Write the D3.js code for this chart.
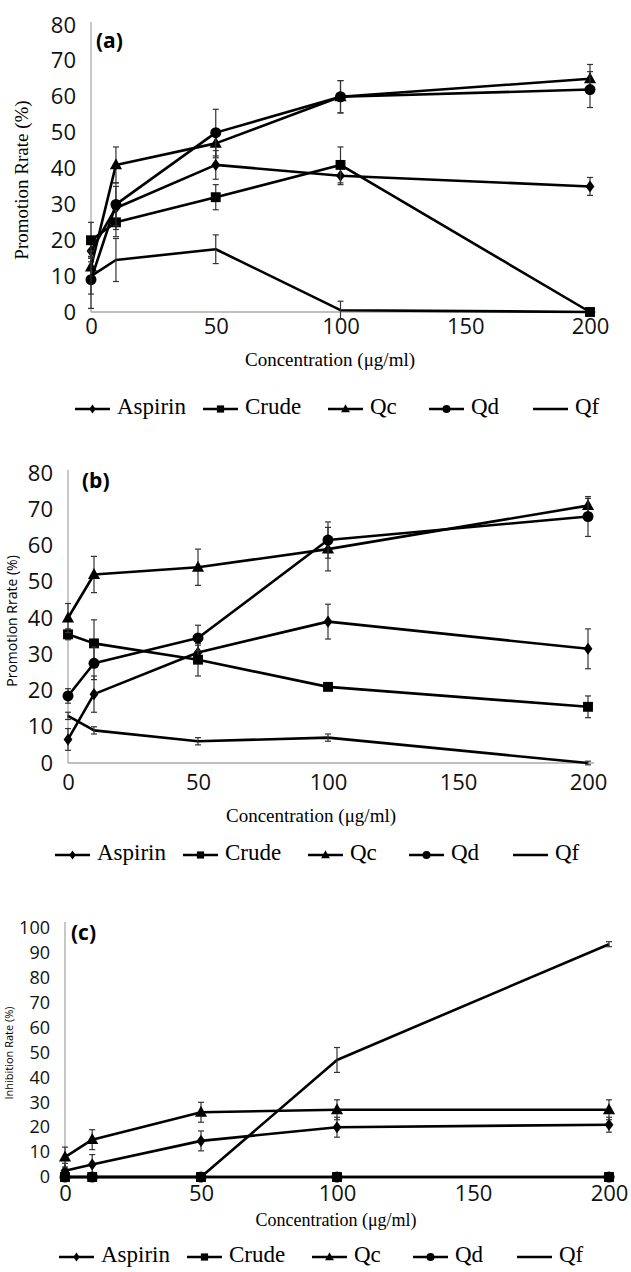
<!DOCTYPE html>
<html>
<head>
<meta charset="utf-8">
<script src="https://cdn.jsdelivr.net/npm/d3@7"></script>
<style>
  body { margin: 0; background: #fff; }
  svg { display: block; }
</style>
</head>
<body>
<svg id="chart" width="631" height="1272"></svg>
<script>
// shared categories
const concentrations = [0, 10, 50, 100, 200];
const xTicks = [0, 50, 100, 150, 200];
const seriesNames = ["Aspirin", "Crude", "Qc", "Qd", "Qf"];
const seriesMarkers = ["diamond", "square", "triangle", "circle", "none"];

// (a) promotion rate
const aAspirin = [17, 29, 41, 38, 35];
const aAspirinErr = [3, 6, 4, 2.5, 2.5];
const aCrude = [20, 25, 32, 41, 0];
const aCrudeErr = [5, 4, 3.5, 5, 1];
const aQc = [12.5, 41, 47, 60, 65];
const aQcErr = [3, 5, 4, 4.5, 4];
const aQd = [9, 30, 50, 60, 62];
const aQdErr = [8, 6, 6.5, 4.5, 5];
const aQf = [10, 14.5, 17.5, 0.5, 0];
const aQfErr = [5, 6, 4, 2.5, 0];

// (b) promotion rate
const bAspirin = [6.5, 19, 30.5, 39, 31.5];
const bAspirinErr = [3, 5, 2, 4.8, 5.5];
const bCrude = [35.5, 33, 28.5, 21, 15.5];
const bCrudeErr = [1.5, 6.5, 4.5, 1, 3];
const bQc = [40, 52, 54, 59, 71];
const bQcErr = [4, 5, 5, 6, 2];
const bQd = [18.5, 27.5, 34.5, 61.5, 68];
const bQdErr = [2, 4.5, 3.5, 5, 5.5];
const bQf = [13, 9, 6, 7, 0];
const bQfErr = [1, 1, 1, 1, 0.5];

// (c) inhibition rate
const cAspirin = [2.5, 5, 14.5, 20, 21];
const cAspirinErr = [3, 4, 4, 4, 3];
const cCrude = [0, 0, 0, 0, 0];
const cCrudeErr = [0, 0, 0, 0, 0];
const cQc = [8, 15, 26, 27, 27];
const cQcErr = [4, 4, 4, 4, 4];
const cQd = [0, 0, 0, 0, 0];
const cQdErr = [0, 0, 0, 0, 0];
const cQf = [0, 0, 0, 47, 93.5];
const cQfErr = [0, 0, 0, 5, 1];

const panels = [
    {
        tag: "(a)", tagX: 96, tagY: 42,
        values: [aAspirin, aCrude, aQc, aQd, aQf],
        errors: [aAspirinErr, aCrudeErr, aQcErr, aQdErr, aQfErr],
        x0: 91, x1: 590, y0: 312, y1: 25, yMax: 80, axisTop: 22, xPad: 6, yTickSize: 22,
        yTitle: "Promotion Rrate (%)", yTitleX: 28, yTitleY: 180, yTitleFont: "'Liberation Serif', serif", yTitleSize: 19,
        xTitleX: 330, xTitleY: 362, xTitleSize: 19,
        legendX: 75, legendY: 409
    },
    {
        tag: "(b)", tagX: 82, tagY: 482,
        values: [bAspirin, bCrude, bQc, bQd, bQf],
        errors: [bAspirinErr, bCrudeErr, bQcErr, bQdErr, bQfErr],
        x0: 68, x1: 588, y0: 763, y1: 473, yMax: 80, axisTop: 470, xPad: 11, yTickSize: 22,
        yTitle: "Promotion Rrate (%)", yTitleX: 17, yTitleY: 621, yTitleFont: "'Open Sans', sans-serif", yTitleSize: 14,
        xTitleX: 311, xTitleY: 818, xTitleSize: 19,
        legendX: 55, legendY: 855
    },
    {
        tag: "(c)", tagX: 71, tagY: 934,
        values: [cAspirin, cCrude, cQc, cQd, cQf],
        errors: [cAspirinErr, cCrudeErr, cQcErr, cQdErr, cQfErr],
        x0: 65, x1: 609, y0: 1177, y1: 928, yMax: 100, axisTop: 922, xPad: 8, yTickSize: 18,
        yTitle: "Inhibition Rate (%)", yTitleX: 12.5, yTitleY: 1053, yTitleFont: "'Open Sans', sans-serif", yTitleSize: 11,
        xTitleX: 336, xTitleY: 1222, xTitleSize: 18,
        legendX: 59, legendY: 1257
    }
];

const legendOffsets = [0, 128, 253, 354, 458];

function markerPath(type, k) {
    if (type === "diamond") return `M0,${-5.5 * k}L${4 * k},0L0,${5.5 * k}L${-4 * k},0Z`;
    if (type === "square") return `M${-4.5 * k},${-4.5 * k}h${9 * k}v${9 * k}h${-9 * k}Z`;
    if (type === "triangle") return `M0,${-6 * k}L${5.5 * k},${4 * k}L${-5.5 * k},${4 * k}Z`;
    if (type === "circle") return d3.symbol(d3.symbolCircle, Math.PI * 25 * k * k)();
    return null;
}

const svg = d3.select("#chart");
svg.append("rect").attr("width", 631).attr("height", 1272).attr("fill", "#fff");

panels.forEach(p => {
    const g = svg.append("g");
    const x = d3.scaleLinear().domain([0, 200]).range([p.x0, p.x1]);
    const y = d3.scaleLinear().domain([0, p.yMax]).range([p.y0, p.y1]);

    // axes
    g.append("line")
        .attr("x1", p.x0).attr("x2", p.x0)
        .attr("y1", p.axisTop).attr("y2", p.y0)
        .attr("stroke", "#aaa").attr("stroke-width", 1.3);
    g.append("line")
        .attr("x1", p.x0).attr("x2", p.x1 + 6)
        .attr("y1", p.y0).attr("y2", p.y0)
        .attr("stroke", "#aaa").attr("stroke-width", 1.3);

    const yAxis = g.append("g")
        .attr("transform", `translate(${p.x0},0)`)
        .call(d3.axisLeft(y).tickValues(d3.range(0, p.yMax + 1, 10)).tickSize(0).tickPadding(15));
    const xAxis = g.append("g")
        .attr("transform", `translate(0,${p.y0})`)
        .call(d3.axisBottom(x).tickValues(xTicks).tickSize(0).tickPadding(p.xPad));
    [yAxis, xAxis].forEach(a => {
        a.select(".domain").remove();
        a.selectAll("text")
            .attr("font-family", "'Open Sans', sans-serif")
            .attr("font-size", 22)
            .attr("fill", "#111");
    });
    yAxis.selectAll("text").attr("font-size", p.yTickSize);

    // panel tag
    g.append("text")
        .attr("x", p.tagX).attr("y", p.tagY)
        .attr("dominant-baseline", "middle")
        .attr("font-family", "'Open Sans', sans-serif")
        .attr("font-weight", "bold")
        .attr("font-size", 21)
        .text(p.tag);

    // titles
    g.append("text")
        .attr("transform", `translate(${p.yTitleX},${p.yTitleY}) rotate(-90)`)
        .attr("text-anchor", "middle")
        .attr("font-family", p.yTitleFont)
        .attr("font-size", p.yTitleSize)
        .text(p.yTitle);
    g.append("text")
        .attr("x", p.xTitleX).attr("y", p.xTitleY)
        .attr("text-anchor", "middle")
        .attr("dominant-baseline", "middle")
        .attr("font-family", "'Liberation Serif', serif")
        .attr("font-size", p.xTitleSize)
        .text("Concentration (μg/ml)");

    const line = d3.line()
        .x((d, i) => x(concentrations[i]))
        .y(d => y(d));

    seriesNames.forEach((name, si) => {
        const vals = p.values[si];
        const errs = p.errors[si];
        const s = g.append("g").attr("class", "series-" + name);

        s.append("path")
            .attr("d", line(vals))
            .attr("fill", "none")
            .attr("stroke", "#000")
            .attr("stroke-width", 2.6)
            .attr("stroke-linejoin", "round");

        const bars = s.selectAll(".err")
            .data(vals.map((v, i) => ({ c: concentrations[i], v, e: errs[i] })).filter(d => d.e > 0))
            .join("g").attr("class", "err")
            .attr("stroke", "#333").attr("stroke-width", 1.2);
        bars.append("line")
            .attr("x1", d => x(d.c)).attr("x2", d => x(d.c))
            .attr("y1", d => y(d.v - d.e)).attr("y2", d => y(d.v + d.e));
        bars.append("line")
            .attr("x1", d => x(d.c) - 3).attr("x2", d => x(d.c) + 3)
            .attr("y1", d => y(d.v + d.e)).attr("y2", d => y(d.v + d.e));
        bars.append("line")
            .attr("x1", d => x(d.c) - 3).attr("x2", d => x(d.c) + 3)
            .attr("y1", d => y(d.v - d.e)).attr("y2", d => y(d.v - d.e));

        const mk = markerPath(seriesMarkers[si], 1.1);
        if (mk) {
            s.selectAll(".mk")
                .data(vals)
                .join("path").attr("class", "mk")
                .attr("d", mk)
                .attr("transform", (d, i) => `translate(${x(concentrations[i])},${y(d)})`)
                .attr("fill", "#000");
        }
    });

    // legend
    const lg = g.append("g").attr("transform", `translate(${p.legendX},${p.legendY})`);
    seriesNames.forEach((name, si) => {
        const it = lg.append("g").attr("transform", `translate(${legendOffsets[si]},0)`);
        it.append("line")
            .attr("x1", 0).attr("x2", 35)
            .attr("stroke", "#000").attr("stroke-width", 2.6);
        const mk = markerPath(seriesMarkers[si], 0.8);
        if (mk) {
            it.append("path").attr("d", mk)
                .attr("transform", "translate(17.5,0)")
                .attr("fill", "#000");
        }
        it.append("text")
            .attr("x", 42).attr("y", 0)
            .attr("dominant-baseline", "middle")
            .attr("font-family", "'Liberation Serif', serif")
            .attr("font-size", 23)
            .text(name);
    });
});
</script>
</body>
</html>
